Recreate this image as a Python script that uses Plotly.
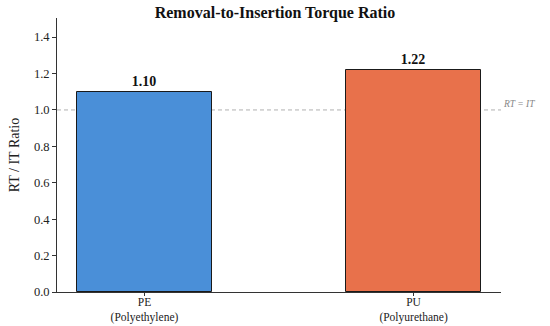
import plotly.graph_objects as go

categories = ["PE<br>(Polyethylene)", "PU<br>(Polyurethane)"]
values = [1.10, 1.22]
colors = ["#4A8FD8", "#E8714B"]
value_labels = ["1.10", "1.22"]
y_ticks = [0.0, 0.2, 0.4, 0.6, 0.8, 1.0, 1.2, 1.4]
ref_value = 1.0

fig = go.Figure()
fig.add_trace(go.Bar(
    x=[0, 1], y=values, width=0.5,
    marker=dict(color=colors, line=dict(color="#1a1a1a", width=1)),
    text=value_labels, textposition="outside",
    textfont=dict(family="Liberation Serif", size=14, color="#111"),
    texttemplate="<b>%{text}</b>", cliponaxis=False,
))
fig.add_shape(type="line", xref="paper", yref="y", x0=0, x1=1, y0=ref_value, y1=ref_value,
              line=dict(color="#b0b0b0", width=1, dash="4px,3px"), layer="below")
fig.add_annotation(xref="paper", yref="y", x=1.04, y=ref_value, xanchor="center", yanchor="bottom",
                   text="<i>RT = IT</i>", showarrow=False, yshift=-1,
                   font=dict(family="Liberation Serif", size=9.5, color="#888"))
fig.update_layout(
    width=550, height=326,
    margin=dict(l=57, r=49, t=18, b=34, autoexpand=False),
    paper_bgcolor="white", plot_bgcolor="white",
    title=dict(text="<b>Removal-to-Insertion Torque Ratio</b>", x=0.5, xanchor="center",
               y=1 - 12 / 326, yanchor="middle",
               font=dict(family="Liberation Serif", size=16, color="#111")),
    font=dict(family="Liberation Serif", color="#222"),
    showlegend=False, bargap=0,
)
fig.update_xaxes(range=[-0.325, 1.325], tickvals=[0, 1], ticktext=categories, automargin=False,
                 showline=True, linecolor="#333", linewidth=1, ticks="outside", ticklen=3,
                 ticklabelstandoff=-4,
                 tickcolor="#333", showgrid=False, tickfont=dict(size=11.5, color="#222"))
fig.update_yaxes(range=[0, 1.505], tickvals=y_ticks, ticktext=[f"{v:.1f}" for v in y_ticks],
                 automargin=False,
                 showline=True, linecolor="#333", linewidth=1, ticks="outside", ticklen=4,
                 tickcolor="#333", showgrid=False, zeroline=False,
                 tickfont=dict(size=12.5, color="#222"),
                 title=dict(text="RT / IT Ratio", font=dict(size=14, color="#222"), standoff=10))
fig.write_html("out.html", config={"displayModeBar": False},
               post_script="document.body.style.margin='0';")
